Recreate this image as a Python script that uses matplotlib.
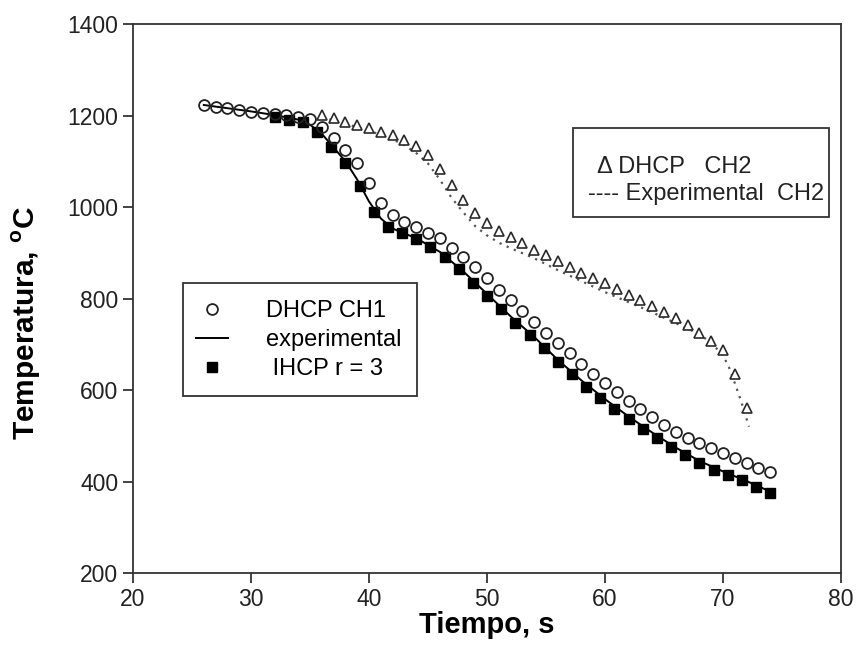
import matplotlib
matplotlib.use('Agg')
import matplotlib.pyplot as plt
from matplotlib.patches import Rectangle

plt.rcParams['font.family'] = ['Liberation Sans', 'DejaVu Sans']
plt.rcParams['mathtext.fontset'] = 'custom'
plt.rcParams['mathtext.rm'] = 'Liberation Sans'
plt.rcParams['mathtext.bf'] = 'Liberation Sans:bold'

# DHCP CH1 (open circles)
t_dhcp1 = [26, 27, 28, 29, 30, 31, 32, 33, 34, 35,
           36, 37, 38, 39, 40, 41, 42, 43, 44, 45,
           46, 47, 48, 49, 50, 51, 52, 53, 54, 55,
           56, 57, 58, 59, 60, 61, 62, 63, 64, 65,
           66, 67, 68, 69, 70, 71, 72, 73, 74]
T_dhcp1 = [1223, 1219, 1216, 1212, 1208, 1205, 1203, 1201, 1197, 1192,
           1175, 1151, 1125, 1096, 1052, 1009, 983, 968, 957, 944,
           932, 910, 891, 869, 845, 819, 797, 773, 749, 725,
           703, 680, 657, 634, 615, 596, 576, 558, 541, 523,
           508, 495, 484, 473, 462, 451, 440, 430, 420]

# IHCP r = 3 (filled squares)
t_ihcp = [32, 33.2, 34.4, 35.6, 36.8, 38, 39.2, 40.4, 41.6, 42.8,
          44, 45.2, 46.4, 47.6, 48.8, 50, 51.2, 52.4, 53.6, 54.8,
          56, 57.2, 58.4, 59.6, 60.8, 62, 63.2, 64.4, 65.6, 66.8,
          68, 69.2, 70.4, 71.6, 72.8, 74]
T_ihcp = [1197, 1190, 1186, 1164, 1131, 1096, 1046, 989, 957, 943,
          930, 912, 891, 864, 834, 805, 777, 746, 720, 692,
          661, 635, 607, 583, 558, 537, 515, 495, 475, 458,
          440, 425, 414, 403, 389, 375]

# experimental CH1 (solid line)
t_exp1 = [26, 28, 30, 32, 34, 35, 36, 37, 38, 39, 40, 41, 42, 43, 44,
          46, 48, 50, 52, 54, 56, 58, 60, 62, 64, 66, 68, 70, 72, 74]
T_exp1 = [1223, 1216, 1209, 1201, 1191, 1180, 1160, 1130, 1100, 1060, 1012, 975, 953, 942, 932,
          902, 859, 810, 761, 716, 666, 621, 580, 542, 507, 474, 445, 422, 401, 378]

# DHCP CH2 (open triangles)
t_dhcp2 = [36, 37, 38, 39, 40, 41, 42, 43, 44, 45,
           46, 47, 48, 49, 50, 51, 52, 53, 54, 55,
           56, 57, 58, 59, 60, 61, 62, 63, 64, 65,
           66, 67, 68, 69, 70, 71, 72]
T_dhcp2 = [1201, 1195, 1186, 1179, 1173, 1164, 1157, 1146, 1133, 1114,
           1083, 1048, 1015, 987, 965, 948, 934, 921, 906, 895,
           882, 869, 856, 845, 834, 821, 808, 797, 784, 770,
           757, 742, 725, 707, 688, 635, 561]

# experimental CH2 (dotted line)
t_exp2 = [36, 38, 40, 42, 43, 44, 45, 46, 47, 48, 49, 50, 51, 52,
          54, 56, 58, 60, 62, 64, 66, 68, 69, 70, 70.5, 71, 71.5, 72.2]
T_exp2 = [1196, 1182, 1167, 1148, 1135, 1118, 1095, 1060, 1020, 988, 958, 938, 922, 910,
          888, 862, 838, 814, 792, 770, 746, 722, 703, 676, 650, 615, 578, 520]

fig = plt.figure(figsize=(8.56, 6.51), dpi=100)
ax = fig.add_axes([0.1554, 0.1198, 0.8271, 0.8433])

ax.plot(t_exp2, T_exp2, linestyle=(0, (1, 2.5)), color='#555555', lw=1.6)
ax.plot(t_dhcp2, T_dhcp2, '^', mfc='white', mec='#2a2a2a', mew=1.2, ms=7.8, ls='none')
l_exp, = ax.plot(t_exp1, T_exp1, '-', color='black', lw=1.4)
l_ihcp, = ax.plot(t_ihcp, T_ihcp, 's', color='black', ms=6.5, ls='none')
l_dhcp, = ax.plot(t_dhcp1, T_dhcp1, 'o', mfc='none', mec='#222222', mew=1.3, ms=7.8, ls='none')

ax.set_xlim(20, 80)
ax.set_ylim(200, 1400)
ax.set_xticks([20, 30, 40, 50, 60, 70, 80])
ax.set_yticks([200, 400, 600, 800, 1000, 1200, 1400])
ax.tick_params(direction='out', length=7, width=1.2, labelsize=16.5, colors='#222222')
for s in ax.spines.values():
    s.set_linewidth(1.3)
    s.set_color('#333333')

ax.set_xlabel('Tiempo, s', fontsize=21, fontweight='bold', labelpad=0)
ax.set_ylabel(r'Temperatura, $^{\mathbf{o}}$C', fontsize=21.5, fontweight='bold')
ax.yaxis.set_label_coords(-0.127, 0.455)

# left legend
leg = ax.legend([l_dhcp, l_exp, l_ihcp], ['DHCP CH1', 'experimental', ' IHCP r = 3'],
                loc='upper left', bbox_to_anchor=(0.089, 0.497), borderaxespad=0, borderpad=0,
                frameon=False, fontsize=17, handlelength=1.35, handletextpad=1.6,
                labelspacing=0.3)
ax.add_patch(Rectangle((0.0706, 0.3224), 0.3305, 0.2058, transform=ax.transAxes,
                       fill=False, lw=1.3, ec='#333333', clip_on=False))

# right legend (text box)
ax.add_patch(Rectangle((0.6215, 0.6485), 0.3615, 0.1621, transform=ax.transAxes,
                       fill=False, lw=1.3, ec='#333333', clip_on=False))
ax.text(0.655, 0.7286, '\u0394 DHCP   CH2', transform=ax.transAxes, fontsize=17,
        va='baseline', ha='left', color='#222222')
ax.text(0.6427, 0.679, '---- Experimental  CH2', transform=ax.transAxes, fontsize=17,
        va='baseline', ha='left', color='#222222')

fig.savefig('out.png', dpi=100)
